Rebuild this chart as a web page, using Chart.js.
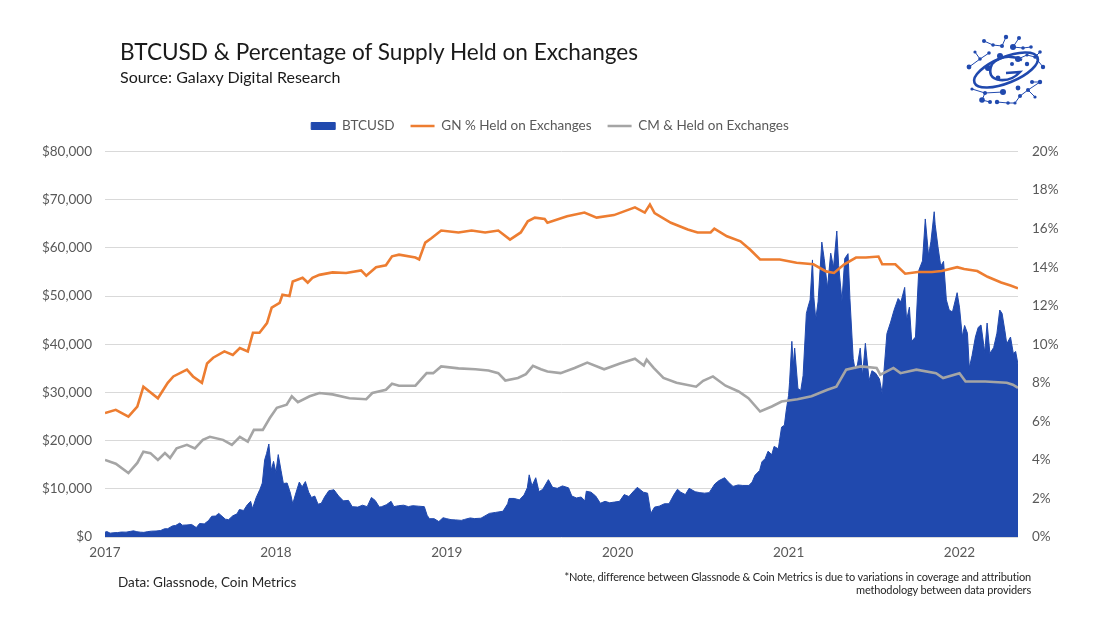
<!DOCTYPE html>
<html>
<head>
<meta charset="utf-8">
<script src="https://cdn.jsdelivr.net/npm/chart.js@4.4.1/dist/chart.umd.min.js"></script>
<style>
html,body{margin:0;padding:0;background:#fff;}
#wrap{position:relative;width:1100px;height:619px;overflow:hidden;font-family:Lato,"Open Sans",sans-serif;}
#c{position:absolute;left:0;top:0;}
.t{position:absolute;white-space:nowrap;}
#title{left:120px;top:38px;font-size:22.6px;color:#1a1a1a;}
#sub{left:120px;top:67px;font-size:16px;color:#1a1a1a;}
#data{left:118px;top:574px;font-size:13.5px;color:#262626;}
#note{right:69px;top:570px;font-size:11px;color:#262626;text-align:right;line-height:13px;letter-spacing:-0.15px;}
#logo{position:absolute;left:960px;top:24px;}
</style>
</head>
<body>
<div id="wrap">
<canvas id="c" width="1100" height="619"></canvas>
<div class="t" id="title">BTCUSD &amp; Percentage of Supply Held on Exchanges</div>
<div class="t" id="sub">Source: Galaxy Digital Research</div>
<div class="t" id="data">Data: Glassnode, Coin Metrics</div>
<div class="t" id="note">*Note, difference between Glassnode &amp; Coin Metrics is due to variations in coverage and attribution<br>methodology between data providers</div>
<svg id="logo" width="95" height="86" viewBox="960 24 95 86">
  <g stroke="#2049AE" stroke-width="1" fill="none">
    <path d="M1006 37 L1002 46 L993 45 L984 41"/>
    <path d="M1019 38 L1013 47 L1023 48 L1031 47"/>
    <path d="M975 52 L980 59 L989 53"/>
    <path d="M1040 52 L1035 57 L1027 55 L1018 59"/>
    <path d="M969 67 L980 59"/>
    <path d="M1043 67 L1035 57"/>
    <path d="M1032 82 L1040 82 L1028 90 L1035 97"/>
    <path d="M972 89 L985 93 L982 100 L990 102"/>
    <path d="M997 102 L1008 103 L1015 103 L1020 96 L1028 90"/>
    <path d="M1003 92 L985 93"/>
  </g>
  <ellipse cx="1006" cy="70" rx="34" ry="13" transform="rotate(-22 1006 70)" fill="none" stroke="#2049AE" stroke-width="2.6"/>
  <path d="M1022 60 Q1004 52 992 64 Q986 78 1000 80 Q1012 81 1020 72 L1006 73" fill="none" stroke="#2049AE" stroke-width="2.6"/>
  <g fill="#2049AE">
    <circle cx="1006" cy="37" r="2.2"/><circle cx="1019" cy="38" r="2"/><circle cx="984" cy="41" r="2"/>
    <circle cx="993" cy="45" r="1.8"/><circle cx="1002" cy="46" r="2"/><circle cx="1013" cy="47" r="3"/>
    <circle cx="1031" cy="47" r="1.8"/><circle cx="1023" cy="48" r="1.8"/><circle cx="975" cy="52" r="1.6"/>
    <circle cx="989" cy="53" r="1.8"/><circle cx="1000" cy="56" r="3"/><circle cx="1018" cy="59" r="3"/>
    <circle cx="1040" cy="52" r="1.8"/><circle cx="1027" cy="55" r="1.6"/><circle cx="1035" cy="57" r="1.8"/>
    <circle cx="980" cy="59" r="1.8"/><circle cx="969" cy="67" r="2.4"/><circle cx="988" cy="68" r="3"/>
    <circle cx="1012" cy="64" r="2"/><circle cx="1027" cy="64" r="2.2"/><circle cx="1043" cy="67" r="2.2"/>
    <circle cx="998" cy="78" r="2.4"/><circle cx="1032" cy="82" r="2"/><circle cx="1040" cy="82" r="2.2"/>
    <circle cx="972" cy="89" r="1.6"/><circle cx="985" cy="93" r="2"/><circle cx="1003" cy="92" r="3"/>
    <circle cx="1018" cy="88" r="2.4"/><circle cx="1028" cy="90" r="2"/><circle cx="982" cy="100" r="2.8"/>
    <circle cx="990" cy="102" r="2"/><circle cx="997" cy="102" r="2.2"/><circle cx="1008" cy="103" r="1.8"/>
    <circle cx="1020" cy="96" r="2"/><circle cx="1015" cy="103" r="1.6"/><circle cx="1035" cy="97" r="1.6"/>
  </g>
</svg>
</div>
<script>
// ---------------- DATA ----------------
const yearTicks = [2017, 2018, 2019, 2020, 2021, 2022];
const axisEnd = "2022-05-06";

const btcDates = [
 "2017-01-01","2017-01-05","2017-01-12","2017-01-20","2017-01-28","2017-02-05","2017-02-15","2017-02-25",
 "2017-03-03","2017-03-10","2017-03-18","2017-03-25","2017-04-01","2017-04-10","2017-04-20","2017-04-30",
 "2017-05-08","2017-05-15","2017-05-25","2017-06-01","2017-06-10","2017-06-15","2017-06-25","2017-07-05",
 "2017-07-15","2017-07-22","2017-08-01","2017-08-10","2017-08-17","2017-08-25","2017-09-01","2017-09-08",
 "2017-09-15","2017-09-22","2017-10-01","2017-10-10","2017-10-15","2017-10-24","2017-11-01","2017-11-08",
 "2017-11-12","2017-11-20","2017-11-28","2017-12-03","2017-12-08","2017-12-12","2017-12-17","2017-12-22",
 "2017-12-27",
 "2018-01-01","2018-01-06","2018-01-12","2018-01-17","2018-01-25",
 "2018-02-01","2018-02-06","2018-02-12","2018-02-20","2018-02-26",
 "2018-03-05","2018-03-12","2018-03-18","2018-03-25",
 "2018-04-01","2018-04-08","2018-04-15","2018-04-24",
 "2018-05-05","2018-05-15","2018-05-25",
 "2018-06-05","2018-06-13","2018-06-25",
 "2018-07-05","2018-07-15","2018-07-24",
 "2018-08-01","2018-08-10","2018-08-15","2018-08-25",
 "2018-09-04","2018-09-10","2018-09-20",
 "2018-10-01","2018-10-11","2018-10-20",
 "2018-11-01","2018-11-14","2018-11-20","2018-11-25",
 "2018-12-05","2018-12-15","2018-12-24",
 "2019-01-01","2019-01-10","2019-01-20",
 "2019-02-01","2019-02-08","2019-02-20",
 "2019-03-01","2019-03-15",
 "2019-04-02","2019-04-15",
 "2019-05-01","2019-05-11","2019-05-14","2019-05-25",
 "2019-06-05","2019-06-15","2019-06-22","2019-06-26",
 "2019-07-02","2019-07-10","2019-07-17","2019-07-25",
 "2019-08-06","2019-08-15","2019-08-25",
 "2019-09-05","2019-09-18","2019-09-25",
 "2019-10-05","2019-10-15","2019-10-23","2019-10-26",
 "2019-11-05","2019-11-15","2019-11-25",
 "2019-12-05","2019-12-15","2019-12-25",
 "2020-01-05","2020-01-15","2020-01-25",
 "2020-02-05","2020-02-12","2020-02-25",
 "2020-03-05","2020-03-12","2020-03-20","2020-03-30",
 "2020-04-10","2020-04-20","2020-04-30",
 "2020-05-08","2020-05-15","2020-05-25",
 "2020-06-02","2020-06-15","2020-06-25",
 "2020-07-05","2020-07-15","2020-07-27",
 "2020-08-05","2020-08-17","2020-08-25",
 "2020-09-04","2020-09-15","2020-09-25",
 "2020-10-08","2020-10-15","2020-10-21","2020-10-31",
 "2020-11-05","2020-11-12","2020-11-18","2020-11-26",
 "2020-12-01","2020-12-10","2020-12-17","2020-12-23","2020-12-27",
 "2021-01-01","2021-01-03","2021-01-08","2021-01-11","2021-01-14","2021-01-21","2021-01-27",
 "2021-02-01","2021-02-08","2021-02-12","2021-02-16","2021-02-21","2021-02-24","2021-02-28",
 "2021-03-05","2021-03-13","2021-03-18","2021-03-25",
 "2021-04-01","2021-04-07","2021-04-14","2021-04-18","2021-04-25",
 "2021-05-01","2021-05-08","2021-05-12","2021-05-19","2021-05-23","2021-05-28",
 "2021-06-03","2021-06-08","2021-06-14","2021-06-22","2021-06-28",
 "2021-07-06","2021-07-14","2021-07-20","2021-07-30",
 "2021-08-07","2021-08-14","2021-08-23","2021-08-29",
 "2021-09-06","2021-09-10","2021-09-16","2021-09-21","2021-09-29",
 "2021-10-06","2021-10-14","2021-10-20","2021-10-27",
 "2021-11-01","2021-11-08","2021-11-10","2021-11-16","2021-11-22","2021-11-28",
 "2021-12-04","2021-12-10","2021-12-17","2021-12-27",
 "2022-01-01","2022-01-07","2022-01-12","2022-01-18","2022-01-22","2022-01-28",
 "2022-02-04","2022-02-10","2022-02-16","2022-02-24",
 "2022-03-01","2022-03-07","2022-03-15","2022-03-22","2022-03-28",
 "2022-04-02","2022-04-08","2022-04-12","2022-04-20","2022-04-26",
 "2022-05-01","2022-05-06"
];
const btcValues = [
 1000,1130,800,890,920,1030,1010,1180,
 1280,1100,1000,960,1090,1210,1240,1350,
 1700,1720,2300,2400,2900,2450,2500,2600,
 1950,2800,2720,3400,4300,4350,4900,4300,
 3700,3600,4400,4800,5700,5500,6700,7400,
 5900,8200,9900,11200,16000,17300,19300,13800,
 15700,
 13400,17100,13800,11100,11200,
 9100,6900,8900,11400,10400,
 11500,9300,8200,8500,
 6800,7000,8300,9600,
 9800,8500,7500,
 7600,6300,6200,
 6600,6300,8200,
 7600,6200,6300,6700,
 7400,6300,6500,
 6600,6300,6500,
 6400,6300,4500,3800,
 3800,3200,4000,
 3800,3600,3550,
 3450,3650,3950,
 3820,3900,
 4900,5100,
 5350,6900,8000,8000,
 7700,8700,10200,12900,
 10600,12300,9400,9900,
 11900,10300,10100,
 10600,10200,8500,
 8100,8300,7500,9500,
 9300,8500,7000,
 7400,7100,7250,
 7400,8800,8400,
 9600,10300,9300,
 9100,4900,6200,6400,
 6900,6900,8700,
 9900,9300,8800,
 10100,9400,9200,
 9100,9200,11000,
 11700,12300,11400,
 10500,10800,10700,
 10700,11400,12800,13800,
 15600,16300,17800,17100,
 18800,18300,22800,23200,26300,
 29400,32000,40600,35500,39200,30800,30400,
 33500,46400,47900,49200,57500,49700,45200,
 48800,61200,57800,51700,
 58900,56000,63500,56300,49000,
 57800,58800,49500,37000,34700,35700,
 39200,33500,40200,32500,34500,
 34000,32800,29800,42200,
 44600,47000,49500,48800,
 51800,45000,47700,40600,41500,
 55300,57300,66000,58400,
 61300,67500,64900,60300,56200,57200,
 49200,47100,46700,50700,
 47700,41600,43900,42300,35100,37700,
 41500,43500,44000,38300,
 44400,38100,39300,42300,47100,
 46400,42800,40100,41500,38100,
 38500,35800
];

const gnDates = [
 "2017-01-01","2017-01-24","2017-02-20","2017-03-11","2017-03-24","2017-04-24","2017-05-15","2017-05-27",
 "2017-06-25","2017-07-08","2017-07-27","2017-08-07","2017-08-20","2017-09-13","2017-10-01","2017-10-16",
 "2017-11-02","2017-11-13","2017-11-27","2017-12-13","2017-12-23",
 "2018-01-09","2018-01-15","2018-01-30","2018-02-06","2018-02-27","2018-03-10","2018-03-20","2018-04-04",
 "2018-05-02","2018-05-31","2018-07-02","2018-07-13","2018-08-03","2018-08-24","2018-09-06","2018-09-21",
 "2018-10-26","2018-11-03","2018-11-16","2018-11-29","2018-12-20",
 "2019-01-26","2019-02-23","2019-03-24","2019-04-21","2019-05-16","2019-06-08","2019-06-23","2019-07-08",
 "2019-07-29","2019-08-04","2019-09-15","2019-10-22","2019-11-17","2019-12-24",
 "2020-02-07","2020-02-28","2020-03-10","2020-03-20","2020-04-24","2020-05-30","2020-06-20","2020-07-18",
 "2020-07-26","2020-08-22","2020-09-20","2020-10-11","2020-11-01","2020-12-13",
 "2021-01-18","2021-02-23","2021-03-22","2021-04-08","2021-04-30","2021-05-25","2021-06-15","2021-07-12",
 "2021-07-20","2021-08-17","2021-09-07","2021-10-04","2021-11-03","2021-11-24","2021-12-27",
 "2022-01-11","2022-02-08","2022-03-02","2022-03-31","2022-04-20","2022-05-06"
];
const gnValues = [
 6.43,6.6,6.25,6.77,7.8,7.2,8.0,8.33,
 8.68,8.33,8.0,9.0,9.3,9.63,9.45,9.8,
 9.63,10.6,10.6,11.1,11.9,
 12.15,12.57,12.5,13.26,13.45,13.2,13.45,13.6,
 13.73,13.7,13.83,13.56,14.0,14.1,14.56,14.65,
 14.5,14.4,15.27,15.5,15.9,
 15.8,15.9,15.8,15.9,15.43,15.8,16.38,16.57,
 16.5,16.3,16.64,16.83,16.57,16.7,
 17.1,16.83,17.25,16.8,16.3,15.95,15.8,15.8,
 16.0,15.6,15.34,14.9,14.4,14.4,
 14.23,14.15,13.78,13.7,14.15,14.5,14.5,14.55,
 14.15,14.15,13.66,13.75,13.75,13.8,14.0,
 13.9,13.8,13.5,13.2,13.05,12.9
];

const cmDates = [
 "2017-01-01","2017-01-24","2017-02-20","2017-03-11","2017-03-24","2017-04-08","2017-04-24","2017-05-09",
 "2017-05-20","2017-06-03","2017-06-25","2017-07-12","2017-07-29","2017-08-13","2017-09-10","2017-09-29",
 "2017-10-16","2017-11-02","2017-11-15","2017-12-04","2017-12-19",
 "2018-01-03","2018-01-24","2018-02-04","2018-02-17","2018-03-14","2018-04-04","2018-05-02","2018-06-07",
 "2018-07-13","2018-07-26","2018-08-24","2018-09-06","2018-09-21","2018-10-26","2018-11-19","2018-12-03",
 "2018-12-20",
 "2019-01-26","2019-03-03","2019-03-31","2019-04-21","2019-05-06","2019-06-02","2019-06-19","2019-07-04",
 "2019-07-21","2019-08-04","2019-09-01","2019-10-01","2019-10-28","2019-12-03",
 "2020-01-06","2020-02-07","2020-02-26","2020-03-03","2020-03-18","2020-04-08","2020-05-06","2020-06-17",
 "2020-07-02","2020-07-23","2020-08-19","2020-09-16","2020-10-07","2020-11-01","2020-11-26","2020-12-17",
 "2021-01-20","2021-02-19","2021-03-25","2021-04-13","2021-05-04","2021-06-04","2021-07-08","2021-07-16",
 "2021-08-13","2021-08-28","2021-10-01","2021-11-12","2021-11-27",
 "2022-01-01","2022-01-14","2022-02-25","2022-04-12","2022-04-25","2022-05-06"
];
const cmValues = [
 4.0,3.8,3.32,3.84,4.43,4.35,4.0,4.35,
 4.1,4.6,4.78,4.6,5.04,5.2,5.04,4.78,
 5.2,4.95,5.56,5.56,6.17,
 6.7,6.86,7.3,7.0,7.3,7.47,7.4,7.2,
 7.15,7.47,7.64,7.95,7.85,7.85,8.5,8.5,
 8.85,
 8.75,8.7,8.64,8.5,8.12,8.25,8.45,8.88,
 8.7,8.59,8.5,8.77,9.05,8.7,
 9.0,9.25,8.9,9.2,8.77,8.25,8.0,7.8,
 8.1,8.33,7.85,7.55,7.2,6.51,6.77,7.03,
 7.15,7.3,7.64,7.8,8.68,8.85,8.77,8.42,
 8.77,8.5,8.68,8.5,8.25,
 8.5,8.07,8.07,8.0,7.9,7.74
];

// ---------------- HELPERS ----------------
function toYear(s) {
  const d = Date.parse(s + "T00:00:00Z");
  const y = new Date(d).getUTCFullYear();
  const a = Date.UTC(y, 0, 1), b = Date.UTC(y + 1, 0, 1);
  return y + (d - a) / (b - a);
}
function pts(dates, vals) {
  const n = Math.min(dates.length, vals.length);
  const out = [];
  for (let i = 0; i < n; i++) out.push({x: toYear(dates[i]), y: vals[i]});
  return out;
}

const BLUE = '#2049AE', ORANGE = '#ED7D31', GRAY = '#A5A5A5';
const TICK = '#595959';
const FONT = {family: 'Lato', size: 13.5};

const legendPlace = {
  id: 'legendPlace',
  afterLayout(chart) {
    const l = chart.legend;
    if (!l) return;
    const p = l.options.labels.padding;
    const dy = (l.top + p + 6.75) - 126;
    l.top -= dy; l.bottom -= dy;
  }
};

new Chart(document.getElementById('c'), {
  type: 'line',
  data: {
    datasets: [
      {label: 'BTCUSD', data: pts(btcDates, btcValues), yAxisID: 'y', order: 3,
       fill: 'origin', backgroundColor: BLUE, borderColor: BLUE, borderWidth: 1,
       pointRadius: 0, pointStyle: 'rect', tension: 0},
      {label: 'GN % Held on Exchanges', data: pts(gnDates, gnValues), yAxisID: 'y1', order: 1,
       fill: false, borderColor: ORANGE, backgroundColor: ORANGE, borderWidth: 2.6,
       pointRadius: 0, pointStyle: 'line', tension: 0},
      {label: 'CM & Held on Exchanges', data: pts(cmDates, cmValues), yAxisID: 'y1', order: 2,
       fill: false, borderColor: GRAY, backgroundColor: GRAY, borderWidth: 2.6,
       pointRadius: 0, pointStyle: 'line', tension: 0}
    ]
  },
  options: {
    responsive: false, animation: false, devicePixelRatio: 1,
    layout: {padding: {top: 112, left: 0, right: 0, bottom: 0}},
    plugins: {
      legend: {
        position: 'top', maxHeight: 40,
        labels: {usePointStyle: true, pointStyleWidth: 24, boxHeight: 7, padding: 16,
                 color: TICK, font: FONT, sort: (a, b) => a.datasetIndex - b.datasetIndex}
      },
      tooltip: {enabled: false},
      title: {display: false}
    },
    scales: {
      x: {
        type: 'linear', min: toYear(yearTicks[0] + "-01-01"), max: toYear(axisEnd),
        grid: {display: false, drawTicks: false}, border: {display: false},
        ticks: {color: TICK, font: FONT, padding: 8, maxRotation: 0, autoSkip: false,
                callback: v => String(Math.round(v))},
        afterBuildTicks: s => { s.ticks = yearTicks.map(v => ({value: v})); },
        afterFit: s => { s.height = 82; }
      },
      y: {
        position: 'left', min: 0, max: 80000,
        grid: {color: '#D9D9D9', lineWidth: 1, drawTicks: false}, border: {display: false},
        ticks: {stepSize: 10000, color: TICK, font: FONT, padding: 13,
                callback: v => '$' + Number(v).toLocaleString('en-US')},
        afterFit: s => { s.width = 105; }
      },
      y1: {
        position: 'right', min: 0, max: 20,
        grid: {display: false, drawTicks: false}, border: {display: false},
        ticks: {stepSize: 2, color: TICK, font: FONT, padding: 14, callback: v => v + '%'},
        afterFit: s => { s.width = 82; }
      }
    }
  },
  plugins: [legendPlace]
});
</script>
</body>
</html>
